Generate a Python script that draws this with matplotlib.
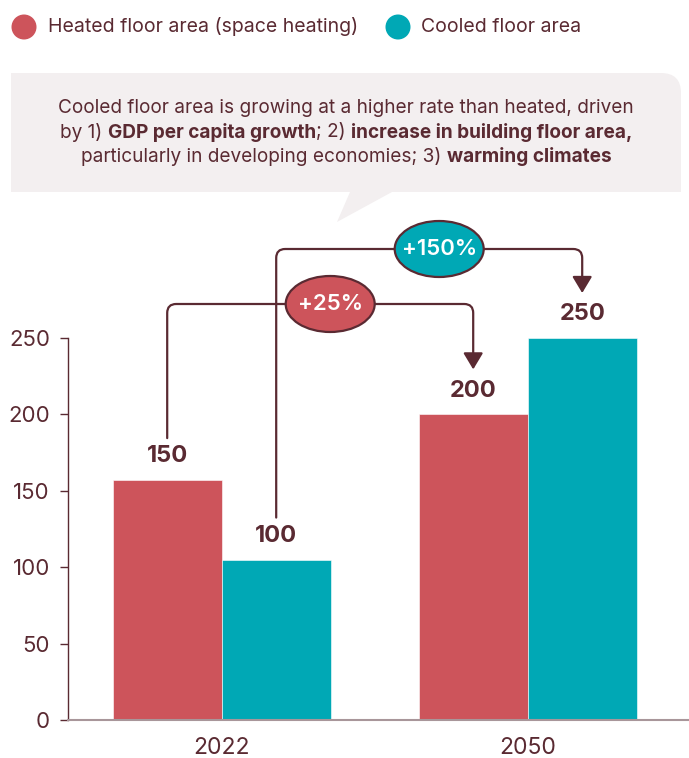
import matplotlib
matplotlib.use("Agg")
import matplotlib.pyplot as plt
from matplotlib.patches import Ellipse, FancyArrowPatch, PathPatch, Circle
from matplotlib.path import Path
from matplotlib.transforms import Affine2D

# ---------------- data ----------------
years = ["2022", "2050"]
heated = [157, 200]
cooled = [105, 250]
heated_labels = ["150", "200"]
cooled_labels = ["100", "250"]
series_names = ["Heated floor area (space heating)", "Cooled floor area"]
growth_labels = ["+25%", "+150%"]
yticks = [0, 50, 100, 150, 200, 250]
callout_lines = [
    [("Cooled floor area is growing at a higher rate than heated, driven", "normal")],
    [("by 1) ", "normal"), ("GDP per capita growth", "bold"), ("; 2) ", "normal"),
     ("increase in building floor area,", "bold")],
    [("particularly in developing economies; 3) ", "normal"), ("warming climates", "bold")],
]

# ---------------- style ----------------
RED = "#CD545B"
TEAL = "#00A8B5"
DARK = "#5A2A32"
BG = "#F3EFF0"
AXGRAY = "#A8969A"

plt.rcParams['font.family'] = ['Inter', 'DejaVu Sans']

W, H = 689, 758
fig = plt.figure(figsize=(W / 100, H / 100), dpi=100)
fig.patch.set_facecolor("white")
px = Affine2D().scale(1 / W, -1 / H).translate(0, 1) + fig.transFigure

# axes spanning from y=720px (value 0) up to top of figure
ax = fig.add_axes([68 / W, (H - 720) / H, (W - 68) / W, 720 / H])
YPX = (720 - 338) / 250.0   # pixels per unit
XPX = 306.0                 # pixels per category step
ax.set_ylim(0, 720 / YPX)
ax.set_xlim(-(221.7 - 68) / XPX, (689 - 221.7) / XPX)
ax.patch.set_alpha(0)

bw = 109 / XPX
xs = list(range(len(years)))
hx = [x - bw / 2 for x in xs]
cx_ = [x + bw / 2 for x in xs]
ax.bar(hx, heated, width=bw, color=RED, edgecolor="white", linewidth=0.4, zorder=2)
ax.bar(cx_, cooled, width=bw, color=TEAL, edgecolor="white", linewidth=0.4, zorder=2)

for x, v, l in zip(hx, heated, heated_labels):
    ax.annotate(l, (x, v), xytext=(0, 17), textcoords="offset points", ha="center",
                va="center", fontsize=17, fontweight="bold", color=DARK)
for x, v, l in zip(cx_, cooled, cooled_labels):
    ax.annotate(l, (x, v), xytext=(0, 17), textcoords="offset points", ha="center",
                va="center", fontsize=17, fontweight="bold", color=DARK)

for s in ["top", "right"]:
    ax.spines[s].set_visible(False)
ax.spines["left"].set_bounds(0, 250)
ax.spines["left"].set_color(DARK)
ax.spines["left"].set_linewidth(1.0)
ax.spines["bottom"].set_color(AXGRAY)
ax.spines["bottom"].set_linewidth(1.5)
ax.set_yticks(yticks)
ax.set_yticklabels([str(t) for t in yticks])
ax.tick_params(axis="y", length=6, width=1, color=DARK, labelsize=16,
               labelcolor=DARK, pad=7)
ax.set_xticks(xs)
ax.set_xticklabels(years)
ax.tick_params(axis="x", length=0, labelsize=16.5, labelcolor=DARK, pad=12)


# ---------------- growth connectors ----------------
def connector(x0, v0, x1, v1, level_px, fc, label):
    ys = v0 + 42 / YPX
    ye = v1 + 45 / YPX
    yl = (720 - level_px) / YPX
    rx, ry = 9 / XPX, 9 / YPX
    verts = [(x0, ys), (x0, yl - ry), (x0, yl), (x0 + rx, yl), (x1 - rx, yl),
             (x1, yl), (x1, yl - ry), (x1, ye)]
    codes = [Path.MOVETO, Path.LINETO, Path.CURVE3, Path.CURVE3, Path.LINETO,
             Path.CURVE3, Path.CURVE3, Path.LINETO]
    arr = FancyArrowPatch(path=Path(verts, codes),
                          arrowstyle="-|>,head_length=1.0,head_width=0.6",
                          mutation_scale=10, color=DARK, lw=1.6, zorder=3)
    ax.add_patch(arr)
    ecx = (x0 + x1) / 2 + 10 / XPX
    ax.add_patch(Ellipse((ecx, yl), width=89 / XPX, height=56 / YPX, facecolor=fc,
                         edgecolor=DARK, lw=1.6, zorder=4))
    ax.text(ecx, yl, label, ha="center", va="center", color="white", fontsize=16,
            fontweight="semibold", zorder=5)


connector(hx[0], heated[0], hx[1], heated[1], 304, RED, growth_labels[0])
connector(cx_[0], cooled[0], cx_[1], cooled[1], 249, TEAL, growth_labels[1])

# ---------------- legend ----------------
for (cxp, tx), name, col in zip([(24, 48), (398, 421)], series_names, [RED, TEAL]):
    fig.patches.append(Circle((cxp, 27), 12.5, transform=px, facecolor=col,
                              edgecolor="none"))
    fig.text(tx, 27, name, transform=px, ha="left", va="center", fontsize=14,
             color=DARK)

# ---------------- callout ----------------
R = 20
verts = [(11, 192), (11, 73), (681 - R, 73), (681, 73), (681, 73 + R), (681, 192),
         (392, 192), (337, 222), (350, 192), (11, 192)]
codes = [Path.MOVETO, Path.LINETO, Path.LINETO, Path.CURVE3, Path.CURVE3, Path.LINETO,
         Path.LINETO, Path.LINETO, Path.LINETO, Path.CLOSEPOLY]
fig.patches.append(PathPatch(Path(verts, codes), transform=px, facecolor=BG,
                             edgecolor="none", zorder=0))

renderer = fig.canvas.get_renderer()


def seg_width(s, weight, size):
    t1 = fig.text(0, 0, "x" + s + "x", fontsize=size, fontweight=weight)
    t2 = fig.text(0, 0, "xx", fontsize=size, fontweight=weight)
    w = t1.get_window_extent(renderer).width - t2.get_window_extent(renderer).width
    t1.remove()
    t2.remove()
    return w


FS = 13.7
for line, yc in zip(callout_lines, [108, 132, 157]):
    widths = [seg_width(s, w, FS) for s, w in line]
    x = 346 - sum(widths) / 2
    for (s, w), wd in zip(line, widths):
        fig.text(x, yc, s, transform=px, ha="left", va="center", fontsize=FS,
                 fontweight=w, color=DARK)
        x += wd

fig.savefig("out.png", dpi=100)
